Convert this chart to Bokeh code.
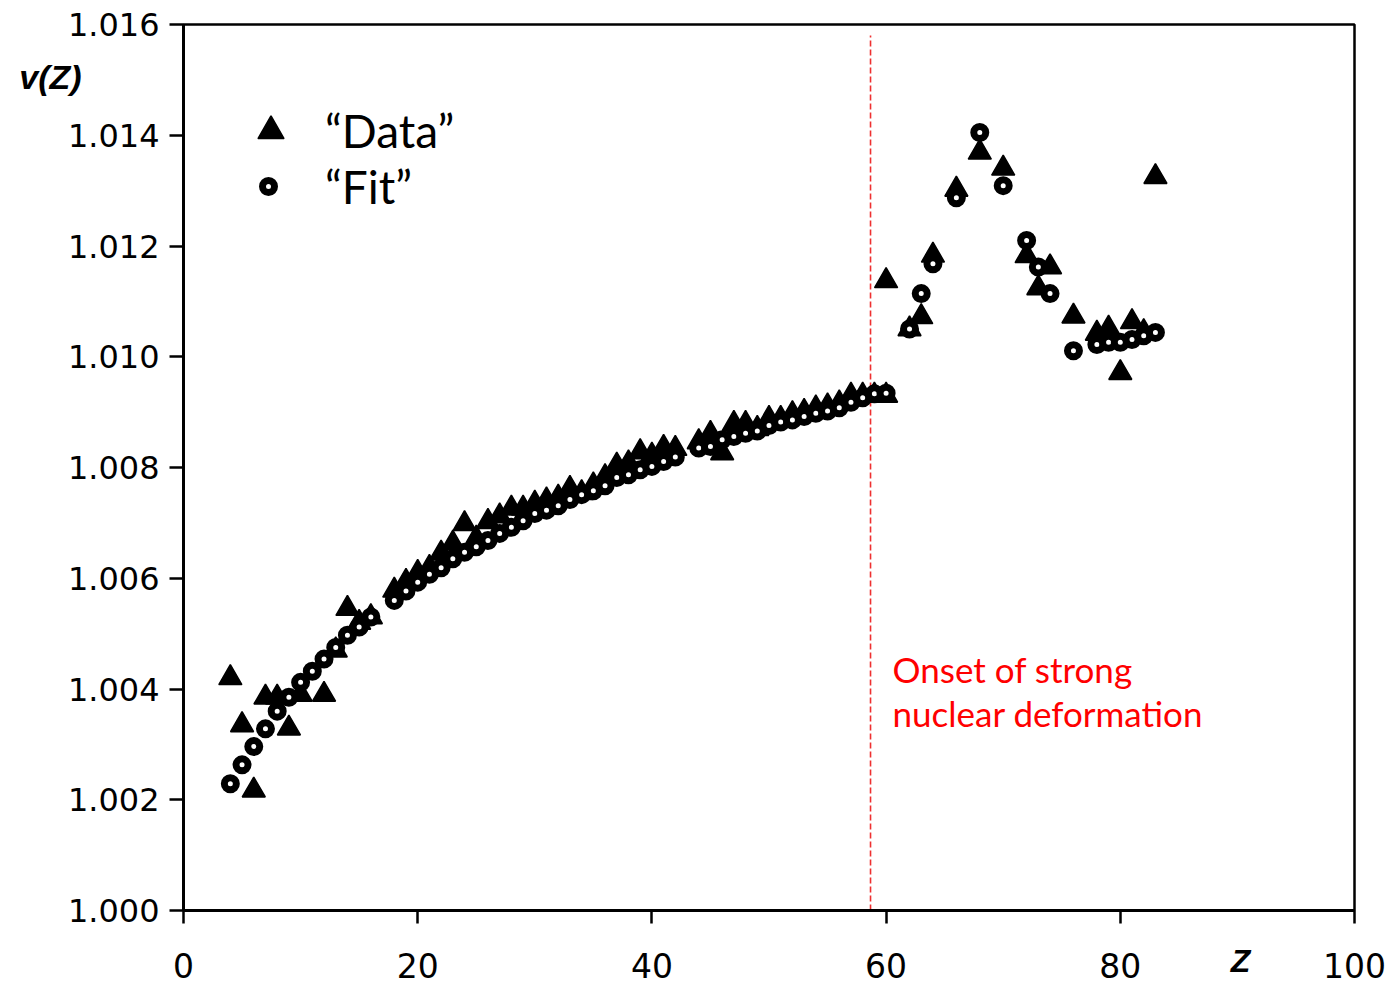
from bokeh.plotting import figure
from bokeh.models import Range1d, FixedTicker, PrintfTickFormatter, Label, Legend, LegendItem
from bokeh.embed import file_html
from bokeh.resources import INLINE

# ---- data ----
data_z = [4, 5, 6, 7, 8, 9, 10, 12, 13, 14, 15, 16,
          18, 19, 20, 21, 22, 23, 24, 25, 26, 27, 28, 29, 30,
          31, 32, 33, 34, 35, 36, 37, 38, 39, 40, 41, 42,
          44, 45, 46, 47, 48, 49, 50, 51, 52, 53, 54, 55, 56, 57, 58, 59, 60,
          60, 62, 63, 64, 66, 68, 70, 72, 73, 74, 76, 78, 79, 80, 81, 82, 83]
data_v = [1.0042, 1.00335, 1.00217, 1.00385, 1.00385, 1.00329, 1.0039, 1.0039, 1.0047, 1.00545, 1.0052, 1.0053,
          1.00578, 1.00594, 1.0061, 1.00619, 1.00645, 1.00663, 1.00698, 1.00672, 1.00702, 1.00712, 1.00726, 1.00726, 1.00735,
          1.00741, 1.00746, 1.00762, 1.00754, 1.00768, 1.00783, 1.00804, 1.00808, 1.00828, 1.00822, 1.00836, 1.00834,
          1.00846, 1.00861, 1.00826, 1.00879, 1.00879, 1.0087, 1.00888, 1.00888, 1.00897, 1.00901, 1.00907, 1.00911, 1.00916,
          1.0093, 1.0093, 1.0093, 1.0093,
          1.01137, 1.0105, 1.01072, 1.01183, 1.01302, 1.01369, 1.0134, 1.01182, 1.01124, 1.01162, 1.01073,
          1.01042, 1.01051, 1.00971, 1.01063, 1.01045, 1.01325]

fit_z = [4, 5, 6, 7, 8, 9, 10, 11, 12, 13, 14, 15, 16,
         18, 19, 20, 21, 22, 23, 24, 25, 26, 27, 28, 29, 30,
         31, 32, 33, 34, 35, 36, 37, 38, 39, 40, 41, 42,
         44, 45, 46, 47, 48, 49, 50, 51, 52, 53, 54, 55, 56, 57, 58, 59, 60,
         62, 63, 64, 66, 68, 70, 72, 73, 74, 76, 78, 79, 80, 81, 82, 83]
fit_v = [1.00229, 1.00263, 1.00296, 1.00328, 1.0036, 1.00385, 1.00412, 1.00432, 1.00454, 1.00475, 1.00497, 1.00512, 1.0053,
         1.0056, 1.00577, 1.00593, 1.00607, 1.00619, 1.00635, 1.00647, 1.00657, 1.00668, 1.00681, 1.00692, 1.00704, 1.00717,
         1.00723, 1.00731, 1.00742, 1.00751, 1.00758, 1.00767, 1.00782, 1.00787, 1.00796, 1.00802, 1.00811, 1.00819,
         1.00835, 1.00838, 1.0085, 1.00856, 1.00862, 1.00866, 1.00876, 1.00882, 1.00886, 1.00892, 1.00898, 1.00902,
         1.00908, 1.00918, 1.00926, 1.00933, 1.00934,
         1.0105, 1.01114, 1.01168, 1.01287, 1.01405, 1.01309, 1.0121, 1.01162, 1.01114, 1.01011,
         1.01022, 1.01026, 1.01026, 1.01031, 1.01038, 1.01044]

x_ticks = [0, 20, 40, 60, 80, 100]
y_ticks = [1.000, 1.002, 1.004, 1.006, 1.008, 1.010, 1.012, 1.014, 1.016]
legend_labels = ["\u201cData\u201d", "\u201cFit\u201d"]
onset_z = 58.67
onset_top = 1.0158
onset_text = ["Onset of strong", "nuclear deformation"]
x_title = "Z"
y_title = "v(Z)"

p = figure(width=1399, height=986, output_backend="svg", toolbar_location=None,
           x_range=Range1d(0, 100), y_range=Range1d(1.0, 1.016),
           min_border_left=183, min_border_right=45, min_border_top=24, min_border_bottom=76,
           background_fill_color="white", border_fill_color="white")

p.xgrid.visible = False
p.ygrid.visible = False
p.outline_line_color = "black"
p.outline_line_width = 2.5

for ax in (p.xaxis, p.yaxis):
    ax.axis_line_width = 3
    ax.axis_line_color = "black"
    ax.major_tick_line_width = 2.5
    ax.major_tick_line_color = "black"
    ax.major_tick_in = 0
    ax.minor_tick_line_color = None
    ax.major_label_text_font = "DejaVu Sans"
    ax.major_label_text_color = "black"

p.xaxis.ticker = FixedTicker(ticks=x_ticks)
p.yaxis.ticker = FixedTicker(ticks=y_ticks)
p.yaxis.formatter = PrintfTickFormatter(format="%.3f")
p.xaxis.major_tick_out = 13
p.yaxis.major_tick_out = 14
p.xaxis.major_label_text_font_size = "33px"
p.yaxis.major_label_text_font_size = "32px"
p.xaxis.major_label_standoff = 29
p.yaxis.major_label_standoff = 10

# onset line
p.segment(x0=[onset_z], y0=[1.0], x1=[onset_z], y1=[onset_top],
          line_color="#ee3030", line_width=1.6, line_dash="6 3")

r_data = p.scatter(data_z, data_v, marker="triangle", size=23,
                   fill_color="black", line_color="black", line_width=1.5)
r_fit = p.scatter(fit_z, fit_v, marker="circle", size=12,
                  fill_color="white", line_color="black", line_width=7)

leg1 = Legend(items=[LegendItem(label=legend_labels[0], renderers=[r_data])],
              location=(55, 747), glyph_width=65, glyph_height=65, label_standoff=22,
              padding=0, margin=0, spacing=0, border_line_alpha=0, background_fill_alpha=0,
              label_text_font="Lato", label_text_font_size="46px", label_text_color="black")
leg2 = Legend(items=[LegendItem(label=legend_labels[1], renderers=[r_fit])],
              location=(70, 696), glyph_width=30, glyph_height=56, label_standoff=42,
              padding=0, margin=0, spacing=0, border_line_alpha=0, background_fill_alpha=0,
              label_text_font="Lato", label_text_font_size="46px", label_text_color="black")
p.add_layout(leg1)
p.add_layout(leg2)

p.add_layout(Label(x=60.55, y=1.00437, text=onset_text[0], text_color="#ff0000",
                   text_font="Lato", text_font_size="35px",
                   text_align="left", text_baseline="middle"))
p.add_layout(Label(x=60.55, y=1.00356, text=onset_text[1], text_color="#ff0000",
                   text_font="Lato", text_font_size="35px",
                   text_align="left", text_baseline="middle"))

# axis titles placed in side panels so they are not clipped to the frame
p.add_layout(Label(x=90.26, y=0.999097, text=x_title, text_color="black",
                   text_font="Liberation Sans", text_font_style="bold italic", text_font_size="32px",
                   text_align="center", text_baseline="middle"), "right")
p.add_layout(Label(x=-11.36, y=1.015043, text=y_title, text_color="black",
                   text_font="Liberation Sans", text_font_style="bold italic", text_font_size="34px",
                   text_align="center", text_baseline="middle"), "left")

open("out.html", "w").write(file_html(p, INLINE))
